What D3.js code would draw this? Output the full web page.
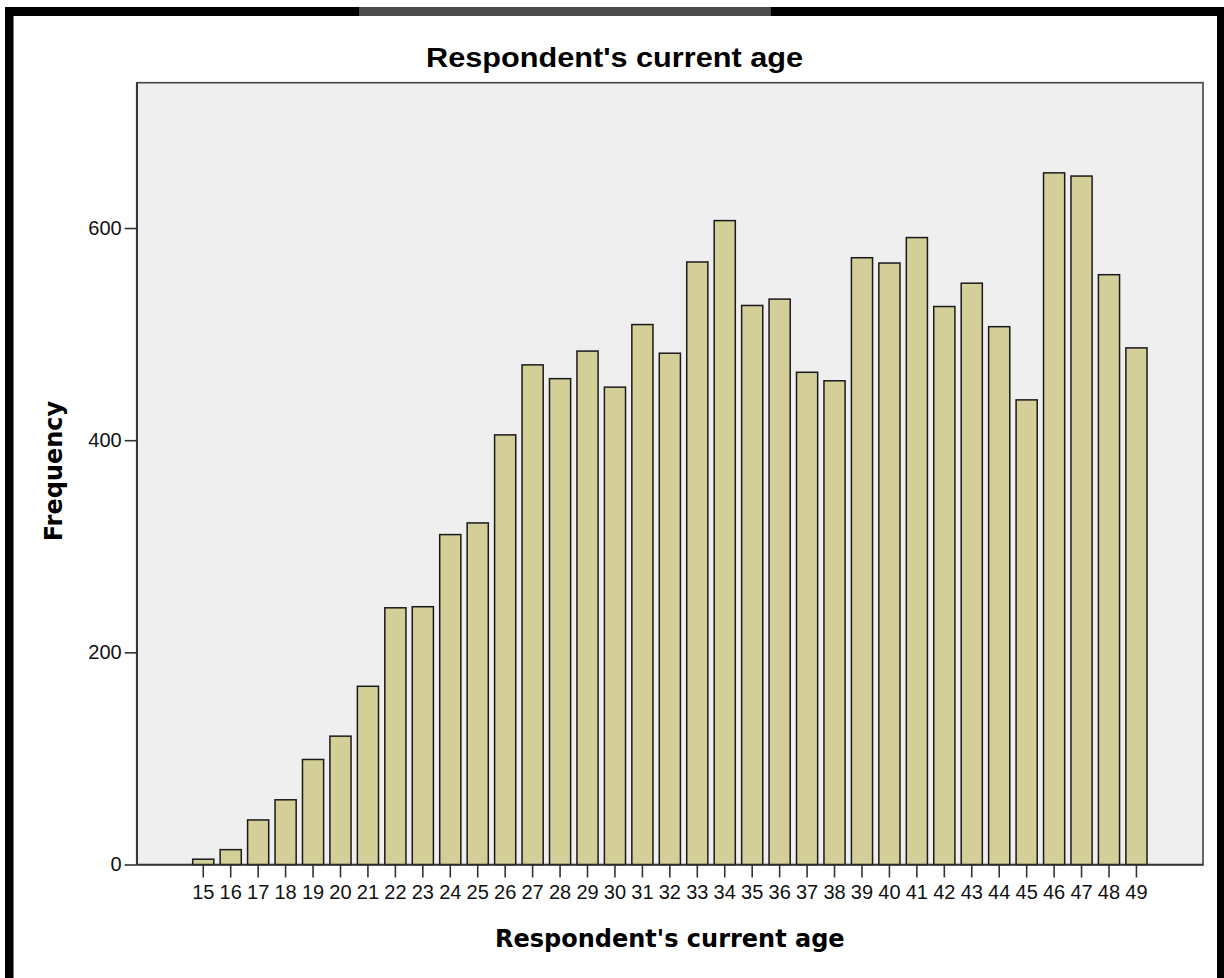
<!DOCTYPE html>
<html>
<head>
<meta charset="utf-8">
<script src="https://cdn.jsdelivr.net/npm/d3@7"></script>
<style>
  html, body { margin: 0; padding: 0; background: #fff; }
  svg { display: block; }
</style>
</head>
<body>
<svg id="chart" width="1224" height="978"></svg>
<script>
// ---- data ----
const ages = [15,16,17,18,19,20,21,22,23,24,25,26,27,28,29,30,31,32,33,34,35,36,37,38,39,40,41,42,43,44,45,46,47,48,49];
const frequencies = [5,14,42,61,99,121,168,242,243,311,322,405,471,458,484,450,509,482,568,607,527,533,464,456,572,567,591,526,548,507,438,652,649,556,487];
const yTicks = [0,200,400,600];
const titleText = "Respondent's current age";
const xLabel = "Respondent's current age";
const yLabel = "Frequency";

const svg = d3.select("#chart");
const W = 1224, H = 978;
const plot = {left: 136.7, right: 1203, top: 82.7, bottom: 864.5};

// page frame
svg.append("rect").attr("x",0).attr("y",0).attr("width",W).attr("height",H).attr("fill","#fff");
svg.append("rect").attr("x",5).attr("y",7).attr("width",W-5).attr("height",9).attr("fill","#000");
svg.append("rect").attr("x",359).attr("y",7).attr("width",412).attr("height",9).attr("fill","#4b4b4b");
svg.append("rect").attr("x",5).attr("y",7).attr("width",8.5).attr("height",H-7).attr("fill","#000");
svg.append("rect").attr("x",1217).attr("y",7).attr("width",7).attr("height",H-7).attr("fill","#000");

// scales
const x = d3.scaleBand().domain(ages).range([plot.left, plot.right]).paddingInner(0.23).paddingOuter(2.04);
const y = d3.scaleLinear().domain([0, 737]).range([plot.bottom, plot.top]);

// plot background
svg.append("rect")
  .attr("x", plot.left).attr("y", plot.top)
  .attr("width", plot.right - plot.left).attr("height", plot.bottom - plot.top)
  .attr("fill", "#efefef").attr("stroke", "#444").attr("stroke-width", 1.6);

// bars
svg.append("g").selectAll("rect").data(ages).join("rect")
  .attr("x", d => x(d))
  .attr("y", (d,i) => y(frequencies[i]))
  .attr("width", x.bandwidth())
  .attr("height", (d,i) => y(0) - y(frequencies[i]))
  .attr("fill", "#d4cf99")
  .attr("stroke", "#1a1a1a")
  .attr("stroke-width", 1.5);

// axes
const xAxis = d3.axisBottom(x).tickValues(ages).tickSize(13).tickPadding(7).tickSizeOuter(0);
const gx = svg.append("g").attr("transform", `translate(0,${plot.bottom})`).call(xAxis);
gx.select(".domain").attr("stroke","#333").attr("stroke-width",1.6);
gx.selectAll(".tick line").attr("stroke","#333").attr("stroke-width",1.6);
gx.selectAll(".tick text").attr("font-family","'Liberation Sans', Arial, sans-serif").attr("font-size",20).attr("fill","#111");

const yAxis = d3.axisLeft(y).tickValues(yTicks).tickSize(12).tickPadding(3).tickSizeOuter(0);
const gy = svg.append("g").attr("transform", `translate(${plot.left},0)`).call(yAxis);
gy.select(".domain").attr("stroke","#333").attr("stroke-width",1.6);
gy.selectAll(".tick line").attr("stroke","#333").attr("stroke-width",1.6);
gy.selectAll(".tick text").attr("font-family","'Liberation Sans', Arial, sans-serif").attr("font-size",20).attr("fill","#111");

// title
svg.append("text")
  .attr("x", 614.5).attr("y", 67)
  .attr("text-anchor","middle")
  .attr("font-family","'Liberation Sans', Arial, sans-serif")
  .attr("font-weight","bold")
  .attr("font-size",27)
  .attr("textLength",377).attr("lengthAdjust","spacingAndGlyphs")
  .attr("fill","#000")
  .text(titleText);

// x label
svg.append("text")
  .attr("x", (plot.left + plot.right)/2).attr("y", 946.5)
  .attr("text-anchor","middle")
  .attr("font-family","'DejaVu Sans', sans-serif")
  .attr("font-weight","bold")
  .attr("font-size",24)
  .attr("fill","#000")
  .text(xLabel);

// y label
svg.append("text")
  .attr("transform", "translate(62,471) rotate(-90)")
  .attr("text-anchor","middle")
  .attr("font-family","'DejaVu Sans', sans-serif")
  .attr("font-weight","bold")
  .attr("font-size",24)
  .attr("fill","#000")
  .text(yLabel);
</script>
</body>
</html>
